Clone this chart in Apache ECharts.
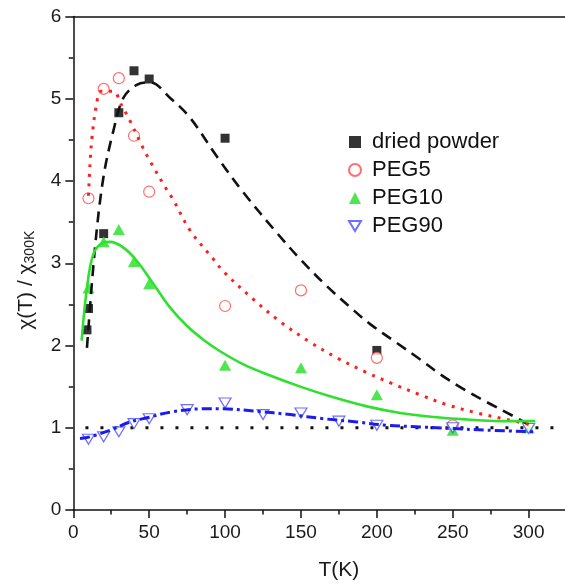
<!DOCTYPE html>
<html>
<head>
<meta charset="utf-8">
<title>χ(T) / χ300K</title>
<script src="https://cdn.jsdelivr.net/npm/echarts@6/dist/echarts.min.js"></script>
<style>
  html, body { margin: 0; padding: 0; background: #fff; }
  #chart { width: 565px; height: 588px; }
</style>
</head>
<body>
<div id="chart"></div>
<script>
// Measured susceptibility ratios
const driedT = [9, 10, 20, 30, 40, 50, 100, 200];
const driedY = [2.19, 2.45, 3.36, 4.83, 5.34, 5.24, 4.52, 1.94];

const peg5T = [10, 20, 30, 40, 50, 100, 150, 200, 250];
const peg5Y = [3.79, 5.12, 5.25, 4.55, 3.87, 2.48, 2.67, 1.85, 1.03];

const peg10T = [10, 20, 30, 40, 50, 100, 150, 200, 250, 300];
const peg10Y = [2.70, 3.26, 3.41, 3.02, 2.75, 1.76, 1.73, 1.40, 0.97, 1.00];

const peg90T = [10, 20, 30, 40, 50, 75, 100, 125, 150, 175, 200, 250, 300];
const peg90Y = [0.86, 0.89, 0.95, 1.05, 1.11, 1.22, 1.30, 1.16, 1.18, 1.08, 1.03, 1.00, 0.99];

// Fitted curves
const driedFitT = [9, 14.3, 19.8, 26.4, 33.0, 41.8, 50.6, 63.8, 76.9, 94.5, 112.1, 134.1, 149.5, 167.1, 184.6, 195.6, 213.2, 228.6, 241.8, 257.1, 272.6, 290.1, 298.9, 302.4];
const driedFitY = [1.97, 3.19, 4.04, 4.61, 5.01, 5.17, 5.20, 5.01, 4.77, 4.30, 3.86, 3.37, 3.05, 2.72, 2.43, 2.26, 2.03, 1.83, 1.65, 1.47, 1.31, 1.14, 1.05, 1.00];

const peg5FitT = [10.0, 11.0, 12.3, 15.3, 18.3, 26.2, 32.1, 37.4, 46.0, 50.6, 60.7, 65.9, 76.9, 92.3, 98.9, 118.7, 136.3, 156.1, 173.7, 192.3, 211.0, 228.6, 246.2, 266.0, 285.8, 303.3];
const peg5FitY = [3.82, 4.20, 4.53, 4.93, 5.09, 5.09, 4.91, 4.73, 4.40, 4.24, 3.92, 3.77, 3.40, 3.05, 2.90, 2.56, 2.29, 2.04, 1.85, 1.68, 1.53, 1.40, 1.28, 1.18, 1.10, 1.03];

const peg10FitT = [5.5, 8.8, 13.2, 19.8, 24.2, 33.0, 41.8, 52.7, 63.8, 74.8, 85.7, 96.7, 112.1, 127.5, 149.5, 171.4, 193.4, 215.4, 237.4, 259.4, 281.3, 304.4];
const peg10FitY = [2.06, 2.67, 3.11, 3.25, 3.26, 3.19, 3.03, 2.75, 2.46, 2.24, 2.07, 1.93, 1.77, 1.65, 1.50, 1.37, 1.26, 1.18, 1.13, 1.10, 1.08, 1.08];

const peg90FitT = [4.4, 11.0, 24.2, 37.4, 50.6, 63.8, 85.7, 98.9, 120.9, 142.9, 164.8, 186.9, 206.6, 228.6, 250.5, 272.6, 305.5];
const peg90FitY = [0.87, 0.89, 0.97, 1.07, 1.13, 1.19, 1.23, 1.23, 1.20, 1.16, 1.11, 1.07, 1.03, 1.01, 0.99, 0.97, 0.95];

// Reference level χ = χ300K
const unityT = [8, 340];
const unityY = [1, 1];

const xTicks = [0, 50, 100, 150, 200, 250, 300];

const FONT = '"Liberation Sans", Arial, sans-serif';
const downTri = 'path://M0,0 L12,0 L6,10 Z';

function pairs(xs, ys) { return xs.map((x, i) => [x, ys[i]]); }

const chart = echarts.init(document.getElementById('chart'), null, { renderer: 'canvas' });

const axisLine = { show: true, lineStyle: { color: '#111', width: 1.5 } };

const fitLine = (name, xs, ys, lineStyle) => ({
  name, type: 'line', data: pairs(xs, ys),
  showSymbol: false, smooth: 0.35, z: 4, lineStyle
});

const option = {
  backgroundColor: '#fff',
  animation: false,
  textStyle: { fontFamily: FONT },
  grid: { left: 73.3, right: -39.5, top: 16.5, bottom: 78, outerBoundsMode: 'none', containLabel: false },
  legend: {
    orient: 'vertical',
    left: 343,
    top: 123,
    itemWidth: 12,
    itemHeight: 12,
    itemGap: 0,
    textStyle: { fontSize: 22, lineHeight: 28, color: '#111', fontFamily: FONT, padding: [0, 0, 0, 6] },
    data: [
      { name: 'dried powder', icon: 'rect' },
      { name: 'PEG5', icon: 'circle' },
      { name: 'PEG10', icon: 'triangle' },
      { name: 'PEG90', icon: downTri }
    ]
  },
  xAxis: [
    {
      type: 'value', min: 0, max: 350, interval: 50, position: 'bottom',
      axisLine: axisLine,
      axisTick: { show: true, inside: false, length: 8, lineStyle: { color: '#111', width: 1.5 } },
      minorTick: { show: true, splitNumber: 2, length: 4.5, lineStyle: { color: '#111', width: 1.5 } },
      splitLine: { show: false },
      axisLabel: {
        fontSize: 19, color: '#1a1a1a', margin: 13, fontFamily: FONT,
        formatter: v => (xTicks.indexOf(v) >= 0 ? String(v) : '')
      },
      name: 'T(K)', nameLocation: 'middle', nameGap: 50,
      nameTextStyle: { fontSize: 21, color: '#1a1a1a', fontFamily: FONT }
    },
    {
      type: 'value', min: 0, max: 350, position: 'top',
      axisLine: axisLine, axisTick: { show: false }, axisLabel: { show: false },
      splitLine: { show: false }
    }
  ],
  yAxis: {
    type: 'value', min: 0, max: 6, interval: 1,
    axisLine: axisLine,
    axisTick: { show: true, inside: false, length: 8, lineStyle: { color: '#111', width: 1.5 } },
    minorTick: { show: true, splitNumber: 2, length: 4.5, lineStyle: { color: '#111', width: 1.5 } },
    splitLine: { show: false },
    axisLabel: { fontSize: 19, color: '#1a1a1a', margin: 12, fontFamily: FONT },
    name: '{a|χ(T) / χ}{b|300K}',
    nameLocation: 'middle', nameGap: 36, nameRotate: 90,
    nameTextStyle: {
      color: '#1a1a1a', fontFamily: FONT, padding: [0, 34, 0, 0],
      rich: {
        a: { fontSize: 21, fontFamily: FONT, color: '#1a1a1a' },
        b: { fontSize: 14, fontFamily: FONT, color: '#1a1a1a', padding: [9, 0, 0, 0] }
      }
    }
  },
  series: [
    {
      name: 'unity', type: 'line', data: pairs(unityT, unityY), showSymbol: false, z: 1,
      lineStyle: { color: '#111', width: 3, type: [3, 12] }
    },
    {
      name: 'dried powder', type: 'scatter', data: pairs(driedT, driedY),
      symbol: 'rect', symbolSize: 9, z: 3,
      itemStyle: { color: '#000' }
    },
    {
      name: 'PEG5', type: 'scatter', data: pairs(peg5T, peg5Y),
      symbol: 'circle', symbolSize: 11, z: 3,
      itemStyle: { color: '#fff', borderColor: '#ff4a4a', borderWidth: 1.2 }
    },
    {
      name: 'PEG10', type: 'scatter', data: pairs(peg10T, peg10Y),
      symbol: 'triangle', symbolSize: [12, 11], z: 3,
      itemStyle: { color: '#22e022' }
    },
    {
      name: 'PEG90', type: 'scatter', data: pairs(peg90T, peg90Y),
      symbol: downTri, symbolSize: [12, 10], z: 3,
      itemStyle: { color: '#fff', borderColor: '#4a4aff', borderWidth: 1.2 }
    },
    fitLine('dried powder fit', driedFitT, driedFitY, { color: '#111', width: 2.6, type: [11, 7] }),
    fitLine('PEG5 fit', peg5FitT, peg5FitY, { color: '#ff1e1e', width: 3, type: [3, 6.5] }),
    fitLine('PEG10 fit', peg10FitT, peg10FitY, { color: '#2fe02f', width: 2.6 }),
    fitLine('PEG90 fit', peg90FitT, peg90FitY, { color: '#1c1cf0', width: 3, type: [10, 4, 3, 4] })
  ]
};

chart.setOption(option);
</script>
</body>
</html>
